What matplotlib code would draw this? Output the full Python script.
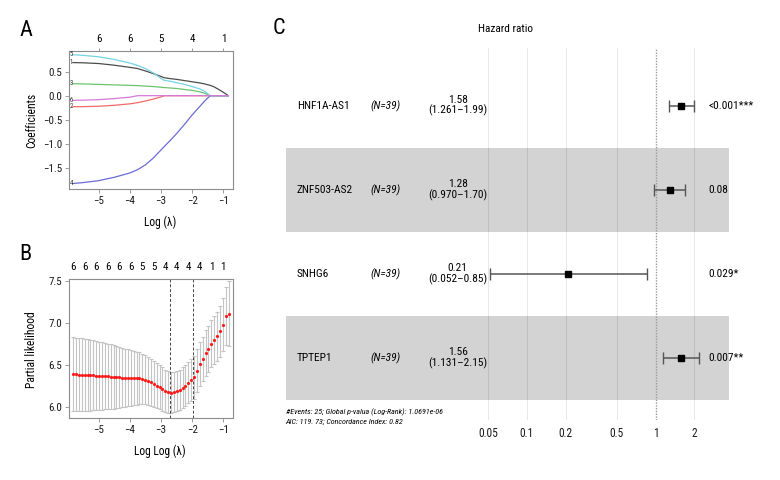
import numpy as np
import matplotlib
matplotlib.use('Agg')
import matplotlib.pyplot as plt
from matplotlib import font_manager as fm
from matplotlib.ticker import NullLocator

# pick a condensed sans family if one is installed
ttf = fm.fontManager.ttflist
cond_name = None
for pref in ['Liberation Sans Narrow', 'Roboto Condensed', 'Open Sans Condensed']:
    if any(f.name == pref for f in ttf):
        cond_name = pref
        break
if cond_name is None:
    for f in ttf:
        if ('Narrow' in f.name or 'Condensed' in f.name) and f.style == 'normal':
            cond_name = f.name
            break
if cond_name is not None:
    plt.rcParams['font.family'] = [cond_name, 'DejaVu Sans']
else:
    plt.rcParams['font.family'] = ['DejaVu Sans']
    if any(f.name == 'DejaVu Sans' and f.stretch in ('condensed', 'semi-condensed', 5, 4)
           for f in ttf):
        plt.rcParams['font.stretch'] = 'condensed'

# ---------------- Panel A: coefficient paths ----------------
a_log_lambda = [-5.83, -5.5, -5.0, -4.5, -4.0, -3.75, -3.5, -3.25, -3.0, -2.9, -2.7,
                -2.5, -2.25, -2.0, -1.75, -1.6, -1.42, -1.3, -1.15, -1.0, -0.84]
coef_1 = [0.69, 0.685, 0.67, 0.635, 0.59, 0.565, 0.515, 0.46, 0.40, 0.375, 0.355,
          0.34, 0.315, 0.29, 0.265, 0.245, 0.215, 0.185, 0.13, 0.07, 0.0]
coef_2 = [-0.23, -0.228, -0.22, -0.2, -0.17, -0.145, -0.11, -0.07, -0.025, 0.0, 0.0,
          0.0, 0.0, 0.0, 0.0, 0.0, 0.0, 0.0, 0.0, 0.0, 0.0]
coef_3 = [0.25, 0.245, 0.235, 0.225, 0.215, 0.21, 0.2, 0.19, 0.175, 0.17, 0.16,
          0.15, 0.13, 0.11, 0.08, 0.05, 0.0, 0.0, 0.0, 0.0, 0.0]
coef_4 = [-1.83, -1.81, -1.77, -1.70, -1.61, -1.54, -1.44, -1.30, -1.13, -1.06, -0.93,
          -0.79, -0.60, -0.40, -0.22, -0.11, 0.0, 0.0, 0.0, 0.0, 0.0]
coef_5 = [0.854, 0.84, 0.81, 0.755, 0.68, 0.63, 0.565, 0.475, 0.36, 0.32, 0.30,
          0.27, 0.235, 0.19, 0.14, 0.09, 0.0, 0.0, 0.0, 0.0, 0.0]
coef_6 = [-0.097, -0.093, -0.083, -0.06, -0.03, 0.0, 0.0, 0.0, 0.0, 0.0, 0.0,
          0.0, 0.0, 0.0, 0.0, 0.0, 0.0, 0.0, 0.0, 0.0, 0.0]
coef_labels = ['1', '2', '3', '4', '5', '6']
coef_colors = ['#4d4d4d', '#f06a6a', '#6cc46c', '#6b6bd6', '#74d3e3', '#d57ad5']
a_top_ticks = [-5, -4, -3, -2, -1]
a_top_df = ['6', '6', '5', '4', '1']

# ---------------- Panel B: cross-validation ----------------
b_log_lambda = [-5.820, -5.728, -5.635, -5.543, -5.450, -5.358, -5.266, -5.173, -5.081, -4.988,
                -4.896, -4.804, -4.711, -4.619, -4.526, -4.434, -4.342, -4.249, -4.157, -4.064,
                -3.972, -3.880, -3.787, -3.695, -3.602, -3.510, -3.418, -3.325, -3.233, -3.140,
                -3.048, -2.956, -2.863, -2.771, -2.678, -2.586, -2.494, -2.401, -2.309, -2.216,
                -2.124, -2.032, -1.939, -1.847, -1.754, -1.662, -1.570, -1.477, -1.385, -1.292,
                -1.200, -1.108, -1.015, -0.923, -0.830]
b_mean = [6.385, 6.384, 6.383, 6.381, 6.379, 6.377, 6.375, 6.373, 6.371, 6.369,
          6.366, 6.364, 6.361, 6.358, 6.355, 6.352, 6.349, 6.346, 6.344, 6.342,
          6.341, 6.340, 6.340, 6.339, 6.333, 6.320, 6.305, 6.290, 6.270, 6.250,
          6.230, 6.210, 6.190, 6.175, 6.168, 6.175, 6.185, 6.200, 6.225, 6.250,
          6.285, 6.320, 6.350, 6.430, 6.510, 6.570, 6.640, 6.690, 6.750, 6.800,
          6.840, 6.900, 6.980, 7.080, 7.110]
b_se = [0.440, 0.438, 0.436, 0.433, 0.430, 0.426, 0.422, 0.418, 0.413, 0.408,
        0.403, 0.397, 0.391, 0.385, 0.378, 0.371, 0.364, 0.356, 0.348, 0.340,
        0.332, 0.324, 0.316, 0.308, 0.300, 0.294, 0.288, 0.282, 0.276, 0.270,
        0.264, 0.258, 0.252, 0.246, 0.240, 0.238, 0.238, 0.240, 0.242, 0.245,
        0.248, 0.251, 0.254, 0.258, 0.262, 0.266, 0.270, 0.275, 0.280, 0.286,
        0.293, 0.302, 0.315, 0.345, 0.385]
b_top_df = ['6', '6', '6', '6', '6', '6', '5', '5', '4', '4', '4', '4', '1', '1']
lambda_min = -2.70
lambda_1se = -1.97

# ---------------- Panel C: forest plot ----------------
genes = ['HNF1A-AS1', 'ZNF503-AS2', 'SNHG6', 'TPTEP1']
n_text = ['(N=39)', '(N=39)', '(N=39)', '(N=39)']
hr = [1.58, 1.28, 0.21, 1.56]
ci_low = [1.261, 0.970, 0.052, 1.131]
ci_high = [1.99, 1.70, 0.85, 2.15]
hr_text = ['1.58', '1.28', '0.21', '1.56']
ci_text = ['(1.261\u20131.99)', '(0.970\u20131.70)', '(0.052\u20130.85)', '(1.131\u20132.15)']
p_text = ['<0.001***', '0.08', '0.029*', '0.007**']
hr_ticks = [0.05, 0.1, 0.2, 0.5, 1, 2]
hr_tick_labels = ['0.05', '0.1', '0.2', '0.5', '1', '2']
footer_1 = '#Events: 25; Global p-valua (Log-Rank): 1.0691e-06'
footer_2 = 'AIC: 119. 73; Concordance Index: 0.82'

W, H = 780, 480
fig = plt.figure(figsize=(7.8, 4.8), dpi=100)


def rect(l, t, r, b):
    return [l / W, 1 - b / H, (r - l) / W, (b - t) / H]


def fx(x):
    return x / W


def fy(y):
    return 1 - y / H


spine_col = '#8c8c8c'
tick_fs = 7.9


def style_box(ax):
    for s in ax.spines.values():
        s.set_color(spine_col)
        s.set_linewidth(0.8)
    ax.tick_params(direction='out', length=3, width=0.6, color=spine_col,
                   labelsize=tick_fs, pad=2, labelcolor='#1a1a1a')


# Panel A
axA = fig.add_axes(rect(69, 51, 233, 189))
series = [coef_1, coef_2, coef_3, coef_4, coef_5, coef_6]
for vals, col, lab in zip(series, coef_colors, coef_labels):
    axA.plot(a_log_lambda, vals, color=col, lw=0.9)
    axA.text(a_log_lambda[0] - 0.01, vals[0], lab, ha='right', va='center',
             fontsize=4.8, color='#333333')
axA.set_xlim(-5.955, -0.69)
axA.set_ylim(-1.944, 0.931)
axA.set_xticks([-5, -4, -3, -2, -1])
axA.set_yticks([-1.5, -1.0, -0.5, 0.0, 0.5])
axA.set_yticklabels(['\u22121.5', '\u22121.0', '\u22120.5', '0.0', '0.5'])
style_box(axA)
secA = axA.secondary_xaxis('top')
secA.set_xticks(a_top_ticks, labels=a_top_df)
secA.tick_params(length=2, width=0.6, color=spine_col, labelsize=tick_fs, pad=3)
secA.spines['top'].set_visible(False)

# Panel B
axB = fig.add_axes(rect(69, 279.3, 233, 418.3))
axB.errorbar(b_log_lambda, b_mean, yerr=b_se, fmt='none', ecolor='#c4c4c4',
             elinewidth=0.8, capsize=1.4, capthick=0.8, zorder=1)
axB.plot(b_log_lambda, b_mean, 'o', color='#ff1a1a', markersize=2.3,
         markeredgewidth=0, zorder=3)
axB.axvline(lambda_min, color='#444444', ls=(0, (3, 2)), lw=0.7, zorder=2)
axB.axvline(lambda_1se, color='#444444', ls=(0, (3, 2)), lw=0.7, zorder=2)
axB.set_xlim(-5.955, -0.69)
axB.set_ylim(5.86, 7.52)
axB.set_xticks([-5, -4, -3, -2, -1])
axB.set_yticks([6.0, 6.5, 7.0, 7.5])
axB.set_yticklabels(['6.0', '6.5', '7.0', '7.5'])
style_box(axB)
secB = axB.secondary_xaxis('top')
secB.set_xticks(b_log_lambda[::4], labels=b_top_df)
secB.tick_params(length=0, labelsize=tick_fs, pad=5)
secB.spines['top'].set_visible(False)

# axis labels & panel letters
lab_fs = 8.3
fig.text(fx(160), fy(222.7), 'Log (\u03bb)', ha='center', va='center', fontsize=lab_fs)
fig.text(fx(160), fy(451.7), 'Log Log (\u03bb)', ha='center', va='center', fontsize=lab_fs)
fig.text(fx(31.7), fy(120.3), 'Coefficients', ha='center', va='center',
         rotation=90, fontsize=lab_fs)
fig.text(fx(31.7), fy(349.5), 'Partial likelihood', ha='center', va='center',
         rotation=90, fontsize=lab_fs)
fig.text(fx(25.5), fy(30), 'A', ha='center', va='center', fontsize=16)
fig.text(fx(25), fy(254.5), 'B', ha='center', va='center', fontsize=16)
fig.text(fx(279), fy(29), 'C', ha='center', va='center', fontsize=16)

# Panel C
axC = fig.add_axes(rect(285.7, 48, 729.3, 420))
axC.set_xscale('log')
axC.set_xlim(0.001341, 3.727)
axC.set_ylim(3.738, -0.690)
for s in axC.spines.values():
    s.set_visible(False)
for i in range(len(genes)):
    if i % 2 == 1:
        axC.axhspan(i - 0.5, i + 0.5, color='#d3d3d3', lw=0, zorder=0)
for t in hr_ticks:
    if t == 1:
        axC.axvline(t, color='#9a9a9a', ls=(0, (1, 1)), lw=1.0, zorder=1)
    else:
        axC.axvline(t, color='black', alpha=0.09, lw=0.8, zorder=1)
rows = np.arange(len(genes))
hr_a = np.array(hr)
xerr = [hr_a - np.array(ci_low), np.array(ci_high) - hr_a]
axC.errorbar(hr, rows, xerr=xerr, fmt='s', color='black', ecolor='#555555',
             elinewidth=1.1, capsize=4.5, capthick=1.0, markersize=4.5, zorder=3)
axC.set_xticks(hr_ticks, labels=hr_tick_labels)
axC.xaxis.set_minor_locator(NullLocator())
axC.tick_params(axis='x', length=0, pad=5, labelsize=8.3, labelcolor='#1a1a1a')
axC.set_yticks([])
tr = axC.get_yaxis_transform()
txt_fs = 8.2
for i in range(len(genes)):
    axC.text(0.0248, i, genes[i], transform=tr, ha='left', va='center', fontsize=txt_fs)
    axC.text(0.1916, i, n_text[i], transform=tr, ha='left', va='center',
             fontsize=txt_fs, style='italic')
    axC.text(0.3877, i, hr_text[i] + '\n' + ci_text[i], transform=tr, ha='center',
             va='center', fontsize=txt_fs, linespacing=0.95)
    axC.text(0.9536, i, p_text[i], transform=tr, ha='left', va='center', fontsize=txt_fs)

fig.text(fx(505), fy(29.3), 'Hazard ratio', ha='center', va='center', fontsize=8.2)
fig.text(fx(285.7), fy(411.7), footer_1, ha='left', va='center', fontsize=5.8,
         style='italic')
fig.text(fx(285.7), fy(421.7), footer_2, ha='left', va='center', fontsize=5.8,
         style='italic')

fig.savefig('out.png', dpi=100)
